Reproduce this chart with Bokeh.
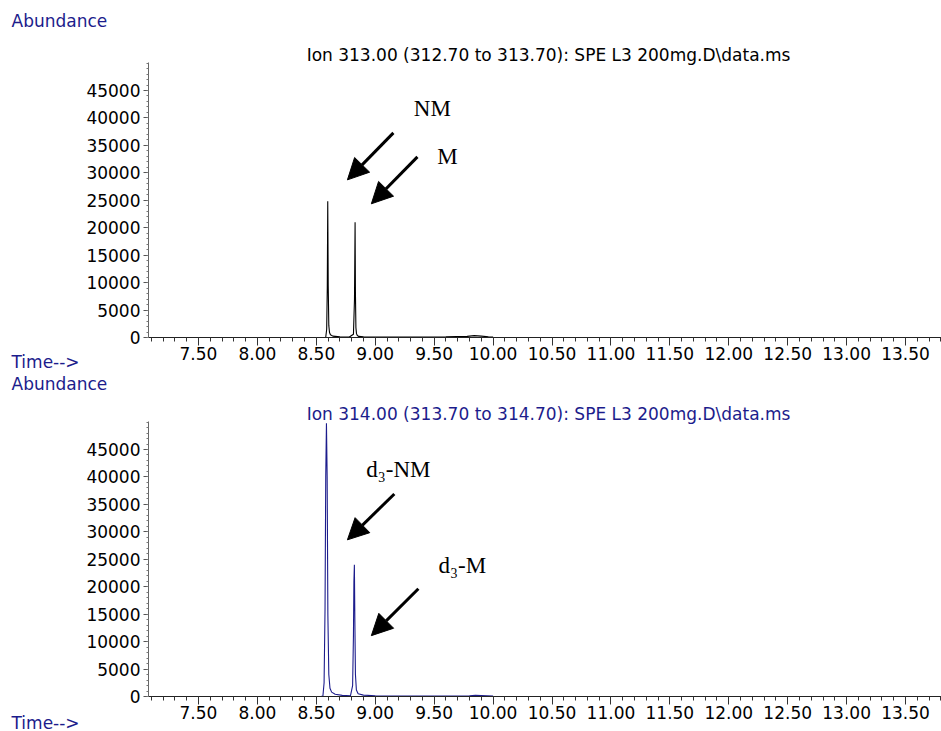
from bokeh.plotting import figure
from bokeh.layouts import column
from bokeh.models import (ColumnDataSource, FixedTicker, NumeralTickFormatter,
                          Label, Arrow, NormalHead, Range1d)
from bokeh.embed import file_html
from bokeh.resources import INLINE

# ---- chromatogram data: retention time (min) vs abundance ----
ion313_time = [8.500, 8.560, 8.580, 8.588, 8.593, 8.597, 8.601, 8.606, 8.612,
               8.620, 8.640, 8.700, 8.780, 8.815, 8.824, 8.829, 8.832, 8.836,
               8.841, 8.848, 8.860, 8.900, 9.000, 9.300, 9.600, 9.780, 9.840,
               9.900, 9.960, 10.000]
ion313_abund = [0, 0, 50, 1500, 9000, 24800, 9500, 2200, 900,
                500, 250, 120, 80, 600, 7000, 21000, 8000, 1800,
                700, 350, 200, 120, 100, 80, 120, 200, 350,
                250, 150, 100]

ion314_time = [8.500, 8.540, 8.556, 8.566, 8.574, 8.580, 8.586, 8.592, 8.598,
               8.606, 8.616, 8.630, 8.660, 8.720, 8.790, 8.808, 8.815, 8.819,
               8.823, 8.827, 8.832, 8.840, 8.855, 8.900, 9.000, 9.400, 9.800,
               9.850, 9.950, 10.000]
ion314_abund = [0, 0, 100, 2500, 16000, 40000, 49800, 40000, 15000,
                4000, 1500, 800, 400, 200, 150, 2000, 11000, 21000,
                24000, 14000, 4000, 1200, 500, 250, 150, 100, 150,
                200, 150, 100]

x_major_ticks = [7.5, 8.0, 8.5, 9.0, 9.5, 10.0, 10.5, 11.0, 11.5, 12.0, 12.5, 13.0, 13.5]
y_major_ticks = [0, 5000, 10000, 15000, 20000, 25000, 30000, 35000, 40000, 45000]

title_313 = "Ion 313.00 (312.70 to 313.70): SPE L3 200mg.D\\data.ms"
title_314 = "Ion 314.00 (313.70 to 314.70): SPE L3 200mg.D\\data.ms"

NAVY = "#1c1c8c"
SANS = "DejaVu Sans"
SERIF = "Liberation Serif"


def canvas_text(p, side, x, y, text, color, align="left", size="17px"):
    # text placed in a side panel so it is drawn outside the data frame
    p.add_layout(Label(x=x, y=y, x_units="canvas", y_units="canvas", text=text,
                       text_align=align, text_baseline="middle",
                       text_font=SANS, text_font_size=size, text_color=color),
                 side)


def make_panel(times, abund, trace_color, title, title_color,
               border_top, border_bottom, total_height, time_y, abund_y):
    p = figure(width=941, height=total_height, output_backend="svg",
               toolbar_location=None, frame_width=793, frame_height=275,
               min_border_left=148, min_border_right=0,
               min_border_top=border_top, min_border_bottom=border_bottom,
               x_range=Range1d(7.076, 13.805), y_range=Range1d(0, 50100))
    p.outline_line_color = None
    p.xgrid.visible = False
    p.ygrid.visible = False
    p.background_fill_color = "white"
    p.border_fill_color = "white"

    src = ColumnDataSource(dict(t=times, a=abund))
    p.line("t", "a", source=src, line_color=trace_color, line_width=1.1)

    # x axis: retention time
    xa = p.xaxis[0]
    minor = [round(7.1 + 0.1 * i, 2) for i in range(68)]
    xa.ticker = FixedTicker(ticks=x_major_ticks, minor_ticks=minor)
    xa.formatter = NumeralTickFormatter(format="0.00")
    xa.axis_line_color = "#222222"
    xa.major_tick_line_color = "#333333"
    xa.minor_tick_line_color = "#333333"
    xa.major_tick_out = 8
    xa.major_tick_in = 0
    xa.minor_tick_out = 4
    xa.minor_tick_in = 0
    xa.major_label_standoff = 1
    xa.major_label_text_font = SANS
    xa.major_label_text_font_size = "17px"
    xa.major_label_text_color = "black"

    # y axis: abundance
    ya = p.yaxis[0]
    ya.ticker = FixedTicker(ticks=y_major_ticks,
                            minor_ticks=[1000 * i for i in range(51)])
    ya.formatter = NumeralTickFormatter(format="0")
    ya.axis_line_color = "#666666"
    ya.major_tick_line_color = "#555555"
    ya.minor_tick_line_color = "#777777"
    ya.major_tick_out = 5
    ya.major_tick_in = 0
    ya.minor_tick_out = 2
    ya.minor_tick_in = 0
    ya.major_label_standoff = 3
    ya.major_label_text_font = SANS
    ya.major_label_text_font_size = "17px"
    ya.major_label_text_color = "black"

    canvas_text(p, "above", 548, border_top - 8, title, title_color, align="center")
    canvas_text(p, "above", 11, abund_y, "Abundance", NAVY)
    canvas_text(p, "left", 11, time_y, "Time-->", NAVY)
    return p


def add_arrow(p, x0, y0, x1, y1):
    p.add_layout(Arrow(end=NormalHead(size=21, fill_color="black", line_color="black"),
                       x_start=x0, y_start=y0, x_end=x1, y_end=y1,
                       line_width=3, line_color="black"))


def add_tag(p, x, y, text):
    p.add_layout(Label(x=x, y=y, text=text, text_align="center", text_baseline="middle",
                       text_font=SERIF, text_font_size="23px", text_color="black"))


top = make_panel(ion313_time, ion313_abund, "black", title_313, "black",
                 62, 36, 373, 361, 20)
add_arrow(top, 9.154, 37270, 8.764, 28720)
add_arrow(top, 9.358, 32900, 8.967, 24360)
add_tag(top, 9.485, 41630, "NM")
add_tag(top, 9.612, 32900, "M")

bottom = make_panel(ion314_time, ion314_abund, NAVY, title_314, NAVY,
                    48, 35, 358, 349, 10)
add_arrow(bottom, 9.162, 36900, 8.764, 28540)
add_arrow(bottom, 9.366, 19630, 8.967, 11090)
add_tag(bottom, 9.196, 41270, "d\u2083-NM")
add_tag(bottom, 9.739, 23820, "d\u2083-M")

layout = column(top, bottom, spacing=0)

with open("out.html", "w") as f:
    f.write(file_html(layout, INLINE))
